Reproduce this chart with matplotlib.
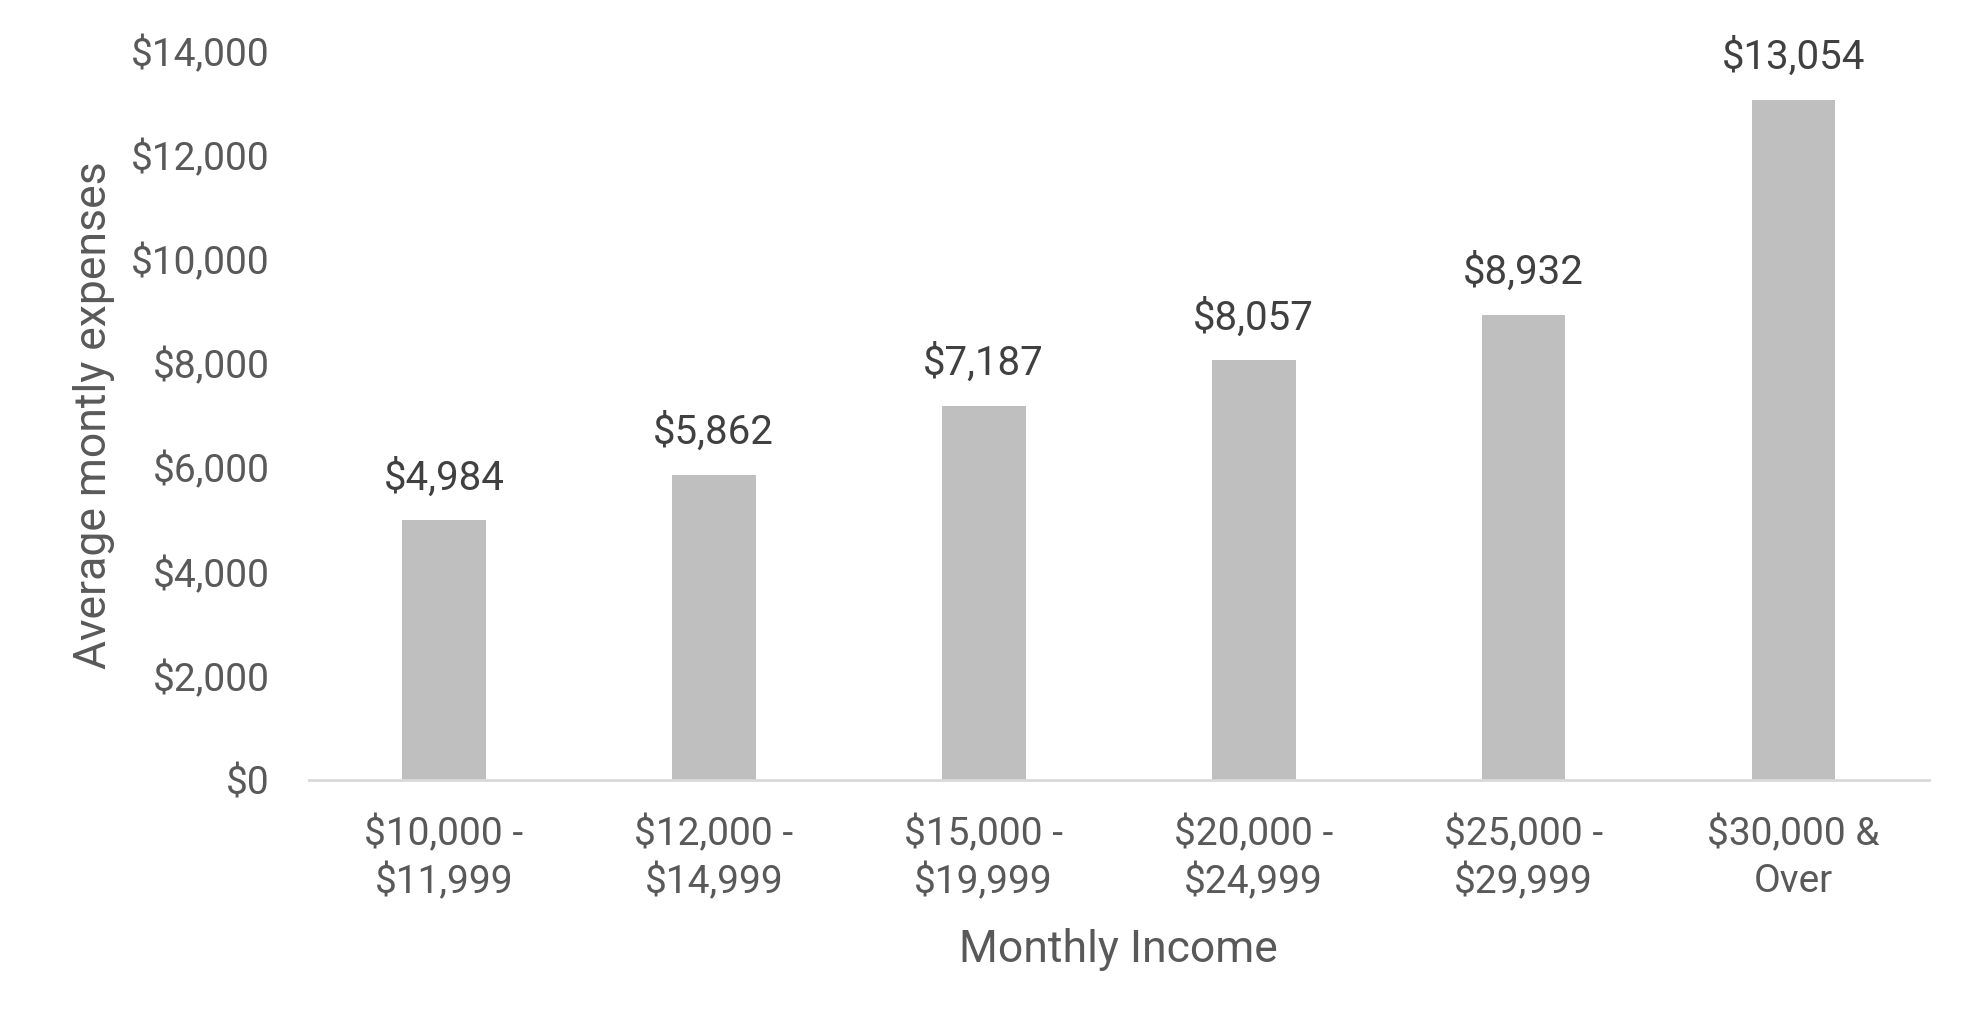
import matplotlib.pyplot as plt
import numpy as np

# chart data
income_bands = ["$10,000 -\n$11,999", "$12,000 -\n$14,999", "$15,000 -\n$19,999",
                "$20,000 -\n$24,999", "$25,000 -\n$29,999", "$30,000 &\nOver"]
avg_expenses = [4984, 5862, 7187, 8057, 8932, 13054]
y_ticks = [0, 2000, 4000, 6000, 8000, 10000, 12000, 14000]

plt.rcParams['font.family'] = ['Roboto', 'DejaVu Sans']

fig = plt.figure(figsize=(19.8, 10.34), dpi=100)
ax = fig.add_axes([0.156, 0.2456, 0.818, 0.7051])

x = np.arange(len(income_bands))
ax.bar(x, avg_expenses, width=0.31, color='#BFBFBF', zorder=2)

# value labels above bars
for xi, v in zip(x, avg_expenses):
    ax.annotate(f"${v:,}", (xi, v), xytext=(0, 31), textcoords='offset points',
                ha='center', va='center', fontsize=29, color='#404040')

ax.set_xlim(-0.5, len(income_bands) - 0.5)
ax.set_ylim(0, 14000)
ax.set_yticks(y_ticks)
ax.set_yticklabels([f"${t:,}" for t in y_ticks])
ax.set_xticks(x)
ax.set_xticklabels(income_bands, linespacing=1.33)

ax.tick_params(axis='y', length=0, pad=28, labelsize=28, labelcolor='#595959')
ax.tick_params(axis='x', length=0, pad=25, labelsize=28, labelcolor='#595959')

for s in ['top', 'right', 'left']:
    ax.spines[s].set_visible(False)
ax.spines['bottom'].set_color('#D9D9D9')
ax.spines['bottom'].set_linewidth(2)

ax.set_ylabel("Average montly expenses", fontsize=32, color='#595959')
ax.yaxis.set_label_coords(-0.12, 0.5)
ax.set_xlabel("Monthly Income", fontsize=32, color='#595959')
ax.xaxis.set_label_coords(0.5, -0.203)

fig.savefig("out.png", dpi=100)
